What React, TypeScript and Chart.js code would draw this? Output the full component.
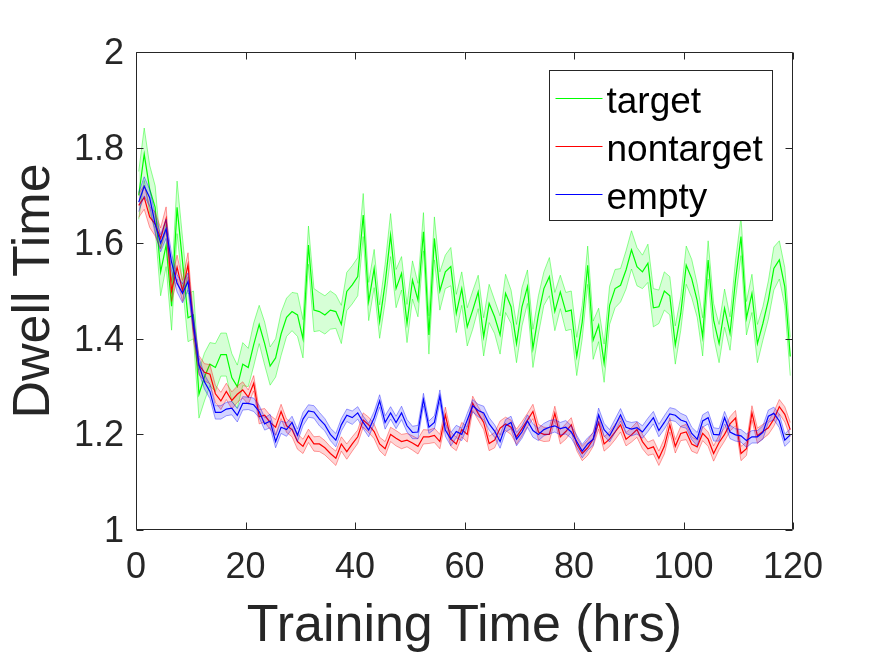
import React, { useEffect, useRef } from "react";
import { Chart, registerables } from "chart.js";

Chart.register(...registerables);

const FONT = '"Liberation Sans", Arial, Helvetica, sans-serif';
const INK = "#262626";

// x categories: hour bins
const HOURS: number[] = Array.from({ length: 120 }, (_, i) => i + 0.5);
const X_TICKS = [0, 20, 40, 60, 80, 100, 120];
const Y_TICKS = [1, 1.2, 1.4, 1.6, 1.8, 2];
const X_TITLE = "Training Time (hrs)";
const Y_TITLE = "Dwell Time";
const SERIES_NAMES = ["target", "nontarget", "empty"];

const TARGET_MEAN = [
  1.700, 1.786, 1.713, 1.675, 1.540, 1.596, 1.468, 1.675, 1.561, 1.444,
  1.450, 1.284, 1.320, 1.347, 1.340, 1.367, 1.367, 1.319, 1.300, 1.347,
  1.340, 1.388, 1.430, 1.390, 1.343, 1.360, 1.410, 1.445, 1.457, 1.450,
  1.400, 1.596, 1.460, 1.457, 1.450, 1.460, 1.457, 1.430, 1.499, 1.513,
  1.530, 1.659, 1.478, 1.547, 1.436, 1.516, 1.617, 1.505, 1.537, 1.432,
  1.523, 1.481, 1.624, 1.408, 1.610, 1.500, 1.540, 1.551, 1.453, 1.505,
  1.425, 1.460, 1.498, 1.404, 1.474, 1.446, 1.408, 1.495, 1.467, 1.390,
  1.467, 1.509, 1.380, 1.450, 1.505, 1.530, 1.457, 1.498, 1.457, 1.460,
  1.363, 1.435, 1.554, 1.397, 1.429, 1.349, 1.470, 1.505, 1.512, 1.544,
  1.586, 1.551, 1.540, 1.558, 1.465, 1.467, 1.500, 1.490, 1.387, 1.453,
  1.554, 1.526, 1.480, 1.404, 1.565, 1.439, 1.390, 1.464, 1.411, 1.523,
  1.614, 1.443, 1.495, 1.390, 1.432, 1.481, 1.547, 1.565, 1.509, 1.363,
];
const TARGET_SEM = [
  0.050, 0.055, 0.050, 0.045, 0.050, 0.045, 0.050, 0.055, 0.050, 0.050,
  0.050, 0.050, 0.050, 0.045, 0.050, 0.045, 0.045, 0.050, 0.045, 0.045,
  0.040, 0.045, 0.040, 0.045, 0.040, 0.040, 0.045, 0.040, 0.040, 0.045,
  0.040, 0.040, 0.045, 0.040, 0.040, 0.040, 0.035, 0.040, 0.040, 0.040,
  0.040, 0.045, 0.040, 0.040, 0.035, 0.040, 0.045, 0.040, 0.035, 0.040,
  0.040, 0.035, 0.040, 0.040, 0.045, 0.040, 0.035, 0.040, 0.040, 0.035,
  0.040, 0.040, 0.035, 0.040, 0.040, 0.035, 0.040, 0.040, 0.035, 0.040,
  0.040, 0.035, 0.040, 0.040, 0.035, 0.040, 0.040, 0.035, 0.040, 0.040,
  0.040, 0.035, 0.040, 0.040, 0.035, 0.040, 0.040, 0.040, 0.035, 0.040,
  0.040, 0.040, 0.035, 0.040, 0.040, 0.035, 0.040, 0.040, 0.040, 0.035,
  0.040, 0.040, 0.035, 0.040, 0.040, 0.035, 0.040, 0.040, 0.035, 0.040,
  0.040, 0.035, 0.040, 0.040, 0.035, 0.040, 0.045, 0.040, 0.040, 0.040,
];

const NONTARGET_MEAN = [
  1.679, 1.696, 1.655, 1.640, 1.610, 1.651, 1.500, 1.550, 1.500, 1.555,
  1.420, 1.345, 1.330, 1.326, 1.285, 1.270, 1.290, 1.271, 1.284, 1.293,
  1.278, 1.307, 1.237, 1.240, 1.225, 1.215, 1.248, 1.218, 1.210, 1.185,
  1.175, 1.197, 1.180, 1.180, 1.172, 1.160, 1.150, 1.180, 1.164, 1.180,
  1.195, 1.230, 1.220, 1.206, 1.180, 1.170, 1.200, 1.192, 1.185, 1.188,
  1.182, 1.175, 1.195, 1.195, 1.198, 1.185, 1.241, 1.190, 1.180, 1.210,
  1.200, 1.265, 1.244, 1.225, 1.181, 1.188, 1.213, 1.222, 1.215, 1.195,
  1.212, 1.230, 1.248, 1.205, 1.200, 1.200, 1.244, 1.195, 1.206, 1.220,
  1.180, 1.160, 1.172, 1.190, 1.225, 1.180, 1.190, 1.205, 1.220, 1.190,
  1.199, 1.210, 1.185, 1.170, 1.174, 1.150, 1.175, 1.220, 1.175, 1.202,
  1.205, 1.180, 1.174, 1.202, 1.190, 1.160, 1.183, 1.200, 1.222, 1.234,
  1.160, 1.170, 1.245, 1.197, 1.206, 1.214, 1.232, 1.258, 1.242, 1.210,
];
const NONTARGET_SEM = [
  0.025, 0.025, 0.022, 0.025, 0.022, 0.025, 0.022, 0.025, 0.022, 0.025,
  0.022, 0.020, 0.018, 0.020, 0.018, 0.018, 0.017, 0.018, 0.017, 0.017,
  0.015, 0.016, 0.015, 0.014, 0.015, 0.016, 0.015, 0.014, 0.015, 0.016,
  0.015, 0.014, 0.015, 0.016, 0.015, 0.014, 0.015, 0.015, 0.016, 0.015,
  0.014, 0.015, 0.016, 0.015, 0.014, 0.015, 0.015, 0.016, 0.015, 0.014,
  0.015, 0.016, 0.015, 0.014, 0.015, 0.015, 0.016, 0.015, 0.014, 0.015,
  0.016, 0.015, 0.014, 0.015, 0.015, 0.016, 0.015, 0.014, 0.015, 0.016,
  0.015, 0.014, 0.015, 0.016, 0.015, 0.014, 0.015, 0.015, 0.016, 0.015,
  0.014, 0.015, 0.016, 0.015, 0.014, 0.015, 0.015, 0.016, 0.015, 0.014,
  0.015, 0.016, 0.015, 0.014, 0.015, 0.015, 0.016, 0.015, 0.014, 0.015,
  0.016, 0.015, 0.014, 0.015, 0.015, 0.016, 0.015, 0.014, 0.015, 0.016,
  0.015, 0.014, 0.015, 0.016, 0.015, 0.014, 0.015, 0.015, 0.016, 0.015,
];

const EMPTY_MEAN = [
  1.686, 1.719, 1.695, 1.640, 1.600, 1.630, 1.560, 1.516, 1.495, 1.520,
  1.430, 1.345, 1.310, 1.290, 1.246, 1.246, 1.253, 1.255, 1.240, 1.265,
  1.265, 1.262, 1.248, 1.222, 1.228, 1.185, 1.215, 1.210, 1.225, 1.198,
  1.232, 1.249, 1.247, 1.232, 1.220, 1.200, 1.188, 1.220, 1.240, 1.235,
  1.245, 1.225, 1.209, 1.235, 1.270, 1.225, 1.245, 1.225, 1.245, 1.218,
  1.204, 1.205, 1.273, 1.215, 1.225, 1.280, 1.209, 1.190, 1.206, 1.200,
  1.230, 1.260, 1.250, 1.245, 1.222, 1.207, 1.185, 1.218, 1.225, 1.190,
  1.205, 1.228, 1.208, 1.200, 1.210, 1.215, 1.218, 1.212, 1.215, 1.205,
  1.185, 1.165, 1.180, 1.190, 1.241, 1.210, 1.197, 1.218, 1.241, 1.215,
  1.211, 1.214, 1.205, 1.220, 1.235, 1.208, 1.225, 1.243, 1.240, 1.230,
  1.226, 1.202, 1.190, 1.228, 1.235, 1.200, 1.199, 1.235, 1.205, 1.199,
  1.197, 1.187, 1.195, 1.195, 1.204, 1.238, 1.244, 1.228, 1.188, 1.199,
];
const EMPTY_SEM = [
  0.020, 0.020, 0.018, 0.020, 0.018, 0.020, 0.018, 0.018, 0.020, 0.018,
  0.018, 0.016, 0.015, 0.015, 0.014, 0.014, 0.014, 0.014, 0.014, 0.014,
  0.013, 0.014, 0.013, 0.013, 0.014, 0.013, 0.013, 0.014, 0.013, 0.013,
  0.014, 0.013, 0.013, 0.014, 0.013, 0.013, 0.014, 0.013, 0.013, 0.014,
  0.013, 0.013, 0.014, 0.013, 0.013, 0.014, 0.013, 0.013, 0.014, 0.013,
  0.013, 0.014, 0.013, 0.013, 0.014, 0.013, 0.013, 0.014, 0.013, 0.013,
  0.014, 0.013, 0.013, 0.014, 0.013, 0.013, 0.014, 0.013, 0.013, 0.014,
  0.013, 0.013, 0.014, 0.013, 0.013, 0.014, 0.013, 0.013, 0.014, 0.013,
  0.013, 0.014, 0.013, 0.013, 0.014, 0.013, 0.013, 0.014, 0.013, 0.013,
  0.014, 0.013, 0.013, 0.014, 0.013, 0.013, 0.014, 0.013, 0.013, 0.014,
  0.013, 0.013, 0.014, 0.013, 0.013, 0.014, 0.013, 0.013, 0.014, 0.013,
  0.013, 0.014, 0.013, 0.013, 0.014, 0.013, 0.013, 0.014, 0.013, 0.013,
];

const SERIES = [
  { name: SERIES_NAMES[0], mean: TARGET_MEAN, sem: TARGET_SEM, line: "rgb(0,255,0)", edge: "rgba(0,255,0,0.42)", fill: "rgba(0,255,0,0.16)" },
  { name: SERIES_NAMES[1], mean: NONTARGET_MEAN, sem: NONTARGET_SEM, line: "rgb(255,0,0)", edge: "rgba(255,0,0,0.38)", fill: "rgba(255,0,0,0.17)" },
  { name: SERIES_NAMES[2], mean: EMPTY_MEAN, sem: EMPTY_SEM, line: "rgb(0,0,255)", edge: "rgba(0,0,255,0.38)", fill: "rgba(0,0,255,0.17)" },
];

function buildDatasets() {
  const out: any[] = [];
  SERIES.forEach((s, k) => {
    const base = k * 3;
    const pts = (f: (m: number, e: number) => number) =>
      s.mean.map((m, i) => ({ x: HOURS[i], y: f(m, s.sem[i]) }));
    const common = { pointRadius: 0, pointHoverRadius: 0, tension: 0 };
    out.push({ ...common, label: s.name + " lower", data: pts((m, e) => m - e), borderColor: s.edge, borderWidth: 1, fill: false, order: 100 - base });
    out.push({ ...common, label: s.name + " upper", data: pts((m, e) => m + e), borderColor: s.edge, borderWidth: 1, fill: "-1", backgroundColor: s.fill, order: 99 - base });
    out.push({ ...common, label: s.name, data: pts((m) => m), borderColor: s.line, borderWidth: 1.2, fill: false, order: 98 - base });
  });
  return out;
}

const framePlugin = {
  id: "matlabFrame",
  afterDraw(chart: any) {
    const { ctx, chartArea: a, scales } = chart;
    const xs = scales.x;
    const ys = scales.y;
    ctx.save();
    ctx.strokeStyle = INK;
    ctx.lineWidth = 1;
    const L = Math.round(a.left) + 0.5;
    const R = Math.round(a.right) - 0.5;
    const T = Math.round(a.top) + 0.5;
    const B = Math.round(a.bottom) - 0.5;
    ctx.beginPath();
    ctx.rect(L, T, R - L, B - T);
    const tl = 7;
    X_TICKS.forEach((v) => {
      const px = Math.round(xs.getPixelForValue(v)) + 0.5;
      ctx.moveTo(px, B);
      ctx.lineTo(px, B - tl);
      ctx.moveTo(px, T);
      ctx.lineTo(px, T + tl);
    });
    Y_TICKS.forEach((v) => {
      const py = Math.round(ys.getPixelForValue(v)) + 0.5;
      ctx.moveTo(L, py);
      ctx.lineTo(L + tl, py);
      ctx.moveTo(R, py);
      ctx.lineTo(R - tl, py);
    });
    ctx.stroke();

    // legend
    const bx = Math.round(a.right - 244) + 0.5;
    const by = Math.round(a.top + 18) + 0.5;
    const bw = 223;
    const bh = 150;
    ctx.fillStyle = "#ffffff";
    ctx.fillRect(bx, by, bw, bh);
    ctx.strokeStyle = INK;
    ctx.strokeRect(bx, by, bw, bh);
    ctx.font = `37px ${FONT}`;
    ctx.textAlign = "left";
    ctx.textBaseline = "alphabetic";
    SERIES.forEach((s, i) => {
      const ly = Math.round(by + 27 + i * 48) + 0.5;
      ctx.strokeStyle = s.line;
      ctx.lineWidth = 1;
      ctx.beginPath();
      ctx.moveTo(bx + 6, ly);
      ctx.lineTo(bx + 53, ly);
      ctx.stroke();
      ctx.fillStyle = "#000000";
      ctx.fillText(s.name, bx + 57, ly + 14.5);
    });
    ctx.restore();
  },
};

function formatY(v: number) {
  return Number(v).toFixed(1).replace(/\.0$/, "");
}

export default function App() {
  const ref = useRef<HTMLCanvasElement | null>(null);
  useEffect(() => {
    if (!ref.current) return;
    const chart = new Chart(ref.current, {
      type: "line",
      data: { datasets: buildDatasets() },
      options: {
        animation: false,
        responsive: false,
        events: [],
        layout: { padding: { top: 52, right: 82, bottom: 0, left: 0 } },
        plugins: {
          legend: { display: false },
          tooltip: { enabled: false },
          filler: { propagate: false },
        },
        scales: {
          x: {
            type: "linear",
            min: 0,
            max: 120,
            afterFit: (s: any) => {
              s.height = 126;
            },
            afterBuildTicks: (s: any) => {
              s.ticks = X_TICKS.map((v) => ({ value: v }));
            },
            grid: { display: false, drawTicks: false },
            border: { display: false },
            ticks: {
              font: { family: FONT, size: 36 },
              color: INK,
              padding: 16,
              maxRotation: 0,
              autoSkip: false,
              callback: (v: any) => String(v),
            },
            title: {
              display: true,
              text: X_TITLE,
              color: INK,
              font: { family: FONT, size: 52, lineHeight: 1 },
              padding: { top: 0, bottom: 3 },
            },
          },
          y: {
            type: "linear",
            min: 1,
            max: 2,
            afterFit: (s: any) => {
              s.width = 136;
            },
            afterBuildTicks: (s: any) => {
              s.ticks = Y_TICKS.map((v) => ({ value: v }));
            },
            grid: { display: false, drawTicks: false },
            border: { display: false },
            ticks: {
              font: { family: FONT, size: 36 },
              color: INK,
              padding: 12,
              labelOffset: 2,
              autoSkip: false,
              callback: (v: any) => formatY(v),
            },
            title: {
              display: true,
              text: Y_TITLE,
              color: INK,
              font: { family: FONT, size: 52, lineHeight: 1 },
              padding: { top: 9, bottom: 0 },
            },
          },
        },
      },
      plugins: [framePlugin],
    } as any);
    return () => chart.destroy();
  }, []);

  return (
    <div style={{ position: "fixed", left: 0, top: 0, width: 875, height: 656, background: "#ffffff" }}>
      <canvas ref={ref} width={875} height={656} style={{ display: "block", width: 875, height: 656 }} />
    </div>
  );
}
